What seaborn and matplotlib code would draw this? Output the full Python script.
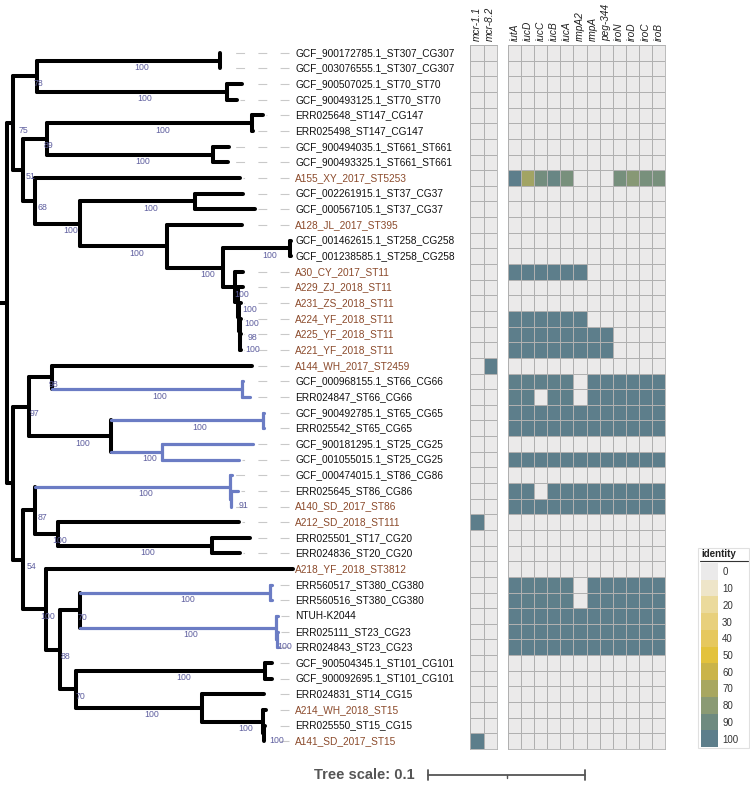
import numpy as np
import pandas as pd
import seaborn as sns
import matplotlib.pyplot as plt
from matplotlib.colors import LinearSegmentedColormap
from matplotlib.lines import Line2D
from matplotlib.patches import Rectangle

sns.set_style('white')
plt.rcParams['font.family'] = ['Liberation Sans', 'DejaVu Sans']

# leaves, top to bottom
leaf_names = [
    'GCF_900172785.1_ST307_CG307', 'GCF_003076555.1_ST307_CG307',
    'GCF_900507025.1_ST70_ST70', 'GCF_900493125.1_ST70_ST70',
    'ERR025648_ST147_CG147', 'ERR025498_ST147_CG147',
    'GCF_900494035.1_ST661_ST661', 'GCF_900493325.1_ST661_ST661',
    'A155_XY_2017_ST5253', 'GCF_002261915.1_ST37_CG37',
    'GCF_000567105.1_ST37_CG37', 'A128_JL_2017_ST395',
    'GCF_001462615.1_ST258_CG258', 'GCF_001238585.1_ST258_CG258',
    'A30_CY_2017_ST11', 'A229_ZJ_2018_ST11', 'A231_ZS_2018_ST11',
    'A224_YF_2018_ST11', 'A225_YF_2018_ST11', 'A221_YF_2018_ST11',
    'A144_WH_2017_ST2459', 'GCF_000968155.1_ST66_CG66', 'ERR024847_ST66_CG66',
    'GCF_900492785.1_ST65_CG65', 'ERR025542_ST65_CG65',
    'GCF_900181295.1_ST25_CG25', 'GCF_001055015.1_ST25_CG25',
    'GCF_000474015.1_ST86_CG86', 'ERR025645_ST86_CG86', 'A140_SD_2017_ST86',
    'A212_SD_2018_ST111', 'ERR025501_ST17_CG20', 'ERR024836_ST20_CG20',
    'A218_YF_2018_ST3812', 'ERR560517_ST380_CG380', 'ERR560516_ST380_CG380',
    'NTUH-K2044', 'ERR025111_ST23_CG23', 'ERR024843_ST23_CG23',
    'GCF_900504345.1_ST101_CG101', 'GCF_900092695.1_ST101_CG101',
    'ERR024831_ST14_CG15', 'A214_WH_2018_ST15', 'ERR025550_ST15_CG15',
    'A141_SD_2017_ST15',
]

study_isolates = [n for n in leaf_names if n.startswith('A')]

# tree: leaves are 1-based indices into leaf_names, internal labels = bootstrap
tree_newick = (
    "((((1:0,2:0)100:0.1166,(3:0.0096,4:0.0064)100:0.1210)78:0.0153,"
    "(((5:0.0070,6:0.0006)100:0.1306,(7:0.0102,8:0.0096)100:0.1057)89:0.0153,"
    "(9:0.1306,((10:0.0306,11:0.0382)100:0.0732,(12:0.0478,"
    "((13:0.0006,14:0.0006)100:0.0427,(15:0.0051,(16:0.0032,(17:0.0013,"
    "(18:0.0006,(19:0.0006,20:0.0006)100:0.0003)98:0.0006)100:0.0006)100:0.0019)"
    "100:0.0076)100:0.0357)100:0.0554)100:0.0287)68:0.0076)51:0.0064)75:0.0038,"
    "(((21:0.1274,(22:0.0006,23:0.0051)100:0.1210)98:0.0146,"
    "((24:0.0006,25:0.0006)100:0.0968,(26:0.0580,27:0.0490)100:0.0325)100:0.0522)97:0.0102,"
    "(((28:0.0013,(29:0.0045,30:0)91:0.0006)100:0.1242,"
    "(31:0.1153,(32:0.0242,33:0.0178)100:0.0981)100:0.0146)87:0.0076,"
    "(34:0.1573,(((35:0.0013,36:0.0013)100:0.1210,(37:0.0013,(38:0.0006,39:0.0006)100:0.0006)100:0.1248)70:0.0127,"
    "((40:0.0045,41:0.0045)100:0.1204,(42:0.0395,(43:0.0019,(44:0.0006,45:0)100:0.0006)100:0.0389)100:0.0803)70:0.0102)"
    "88:0.0089)100:0.0146)54:0.0064):0.0038):0.0045;"
)

# clades drawn in blue
blue_clades = [
    ['GCF_000968155.1_ST66_CG66', 'ERR024847_ST66_CG66'],
    ['GCF_900492785.1_ST65_CG65', 'ERR025542_ST65_CG65'],
    ['GCF_900181295.1_ST25_CG25', 'GCF_001055015.1_ST25_CG25'],
    ['GCF_000474015.1_ST86_CG86', 'ERR025645_ST86_CG86', 'A140_SD_2017_ST86'],
    ['ERR560517_ST380_CG380', 'ERR560516_ST380_CG380'],
    ['NTUH-K2044', 'ERR025111_ST23_CG23', 'ERR024843_ST23_CG23'],
]

mcr_genes = ['mcr-1.1', 'mcr-8.2']
vir_genes = ['iutA', 'iucD', 'iucC', 'iucB', 'iucA', 'rmpA2', 'rmpA',
             'peg-344', 'iroN', 'iroD', 'iroC', 'iroB']

mcr_hits = {
    'A144_WH_2017_ST2459': [0, 100],
    'A212_SD_2018_ST111': [100, 0],
    'A141_SD_2017_ST15': [100, 0],
}

vir_hits = {
    'A155_XY_2017_ST5253': [100, 72, 88, 93, 86, 0, 0, 0, 87, 81, 86, 86],
    'A30_CY_2017_ST11': [100, 100, 100, 100, 100, 100, 0, 0, 0, 0, 0, 0],
    'A224_YF_2018_ST11': [100, 100, 100, 100, 100, 100, 0, 0, 0, 0, 0, 0],
    'A225_YF_2018_ST11': [100, 100, 100, 100, 100, 100, 100, 100, 0, 0, 0, 0],
    'A221_YF_2018_ST11': [100, 100, 100, 100, 100, 100, 100, 100, 0, 0, 0, 0],
    'GCF_000968155.1_ST66_CG66': [99, 99, 99, 99, 99, 0, 100, 100, 100, 100, 100, 100],
    'ERR024847_ST66_CG66': [99, 99, 0, 99, 99, 0, 100, 100, 100, 100, 100, 100],
    'GCF_900492785.1_ST65_CG65': [100] * 12,
    'ERR025542_ST65_CG65': [100] * 12,
    'GCF_001055015.1_ST25_CG25': [100] * 12,
    'ERR025645_ST86_CG86': [100, 100, 0, 100, 100, 100, 100, 100, 100, 100, 100, 100],
    'A140_SD_2017_ST86': [100] * 12,
    'ERR560517_ST380_CG380': [100, 99, 99, 99, 99, 0, 100, 100, 100, 100, 100, 100],
    'ERR560516_ST380_CG380': [100, 99, 99, 99, 99, 0, 100, 100, 100, 100, 100, 100],
    'NTUH-K2044': [100] * 12,
    'ERR025111_ST23_CG23': [100] * 12,
    'ERR024843_ST23_CG23': [100] * 12,
}

legend_levels = [0, 10, 20, 30, 40, 50, 60, 70, 80, 90, 100]
legend_colors = ['#ebeaea', '#eee5c8', '#ebda9c', '#e8d07b', '#e6c85e', '#e3c23c',
                 '#cab449', '#a9a760', '#8a9a74', '#6e8a80', '#5d7e8b']


def parse_newick(s):
    pos = 0

    def node():
        nonlocal pos
        kids = []
        if s[pos] == '(':
            pos += 1
            kids.append(node())
            while s[pos] == ',':
                pos += 1
                kids.append(node())
            pos += 1
        start = pos
        while s[pos] not in ',():;':
            pos += 1
        label = s[start:pos]
        length = 0.0
        if s[pos] == ':':
            pos += 1
            start = pos
            while s[pos] not in ',();':
                pos += 1
            length = float(s[start:pos])
        return {'label': label, 'length': length, 'children': kids}

    return node()


def layout(n, x0):
    n['x'] = x0 + n['length']
    if n['children']:
        for c in n['children']:
            layout(c, n['x'])
        n['y'] = (n['children'][0]['y'] + n['children'][-1]['y']) / 2
        n['leaves'] = set().union(*[c['leaves'] for c in n['children']])
    else:
        n['name'] = leaf_names[int(n['label']) - 1]
        n['y'] = leaf_names.index(n['name']) + 1
        n['leaves'] = {n['name']}


root = parse_newick(tree_newick)
layout(root, 0.0)

px = 1 / 1570          # tree units per pixel (0.1 = 157 px)
label_x = 295 * px
blue = '#6b7cc4'

fig = plt.figure(figsize=(7.5, 7.9), dpi=100)
bottom = 1 - 749 / 790
height = 704 / 790
ax = fig.add_axes([0, bottom, 470 / 750, height])
ax.set_xlim(0, 470 * px)
ax.set_ylim(len(leaf_names) + 0.5, 0.5)
ax.axis('off')


def draw(n, parent_x):
    col = blue if any(n['leaves'] <= set(c) for c in blue_clades) else 'black'
    lw = 2.3 if col == blue else 2.9
    ax.plot([parent_x, n['x']], [n['y'], n['y']], color=col, lw=lw,
            solid_capstyle='round', zorder=2)
    if n['children']:
        ys = [c['y'] for c in n['children']]
        ax.plot([n['x'], n['x']], [min(ys), max(ys)], color=col, lw=lw,
                solid_capstyle='round', zorder=2)
        if n['label']:
            bx = min((parent_x + n['x']) / 2 + 13 * px, 285 * px)
            ax.text(bx, n['y'] + 0.45, n['label'],
                    ha='center', va='center', fontsize=6.3, color='#5f5f9f',
                    family=['Liberation Sans Narrow', 'Liberation Sans'], zorder=3)
        for c in n['children']:
            draw(c, n['x'])
    else:
        if n['x'] < 287 * px:
            ax.plot([289 * px, n['x'] + 3 * px], [n['y'], n['y']], color='#c9c9c9',
                    lw=0.8, ls=(0, (8, 12)), zorder=1)
        ax.text(label_x, n['y'], n['name'], ha='left', va='center', fontsize=7.3,
                color='#8b4a2b' if n['name'] in study_isolates else '#111111')


draw(root, 0.0)

# tree scale
sy = (775 - 45) / (704 / len(leaf_names)) + 0.5
x0, x1 = 428 * px, 428 * px + 0.1
ax.plot([x0, x1], [sy, sy], color='#555555', lw=1.3, clip_on=False)
for xx in (x0, x1):
    ax.plot([xx, xx], [sy - 0.3, sy + 0.3], color='#555555', lw=1.3, clip_on=False)
ax.plot([(x0 + x1) / 2] * 2, [sy, sy + 0.2], color='#555555', lw=1.0, clip_on=False)
ax.text(415 * px, sy, 'Tree scale: 0.1', ha='right', va='center', fontsize=10.5,
        fontweight='bold', color='#555555', clip_on=False)

# heatmaps
cmap = LinearSegmentedColormap.from_list(
    'identity', list(zip(np.array(legend_levels) / 100, legend_colors)))

mcr_df = pd.DataFrame(0, index=leaf_names, columns=mcr_genes, dtype=float)
for k, v in mcr_hits.items():
    mcr_df.loc[k] = v
vir_df = pd.DataFrame(0, index=leaf_names, columns=vir_genes, dtype=float)
for k, v in vir_hits.items():
    vir_df.loc[k] = v

ax_mcr = fig.add_axes([470 / 750, bottom, 27 / 750, height])
ax_vir = fig.add_axes([508 / 750, bottom, 157 / 750, height])
for a, df in ((ax_mcr, mcr_df), (ax_vir, vir_df)):
    sns.heatmap(df, ax=a, cmap=cmap, vmin=0, vmax=100, cbar=False,
                linewidths=0.6, linecolor='#b0b0b0', xticklabels=True,
                yticklabels=False)
    a.xaxis.tick_top()
    a.set_xticklabels(df.columns, rotation=90, fontstyle='italic', fontsize=7.3,
                      color='#222222')
    a.tick_params(length=0, pad=3)
    a.set_xlabel('')
    a.set_ylabel('')
    for s in a.spines.values():
        s.set_visible(True)
        s.set_color('#b0b0b0')
        s.set_linewidth(0.6)

# legend
ax_leg = fig.add_axes([701 / 750, 1 - 747 / 790, 17 / 750, 184 / 790])
leg_df = pd.DataFrame({'identity': legend_levels}, index=legend_levels)
sns.heatmap(leg_df, ax=ax_leg, cmap=cmap, vmin=0, vmax=100, cbar=False,
            xticklabels=False, yticklabels=legend_levels)
ax_leg.yaxis.tick_right()
ax_leg.set_yticklabels(legend_levels, rotation=0, fontsize=7, color='#333333')
ax_leg.tick_params(length=0, pad=3)
ax_leg.set_ylabel('')
fig.text(701 / 750, 1 - 554 / 790, 'identity', fontsize=7, fontweight='bold',
         va='center', ha='left', color='#222222')
fig.add_artist(Line2D([700 / 750, 748 / 750], [1 - 561 / 790] * 2, color='#333333',
                      lw=0.8))
fig.add_artist(Rectangle((698 / 750, 1 - 748 / 790), 51 / 750, 200 / 790,
                         fill=False, edgecolor='#e0e0e0', lw=0.8))

fig.savefig('out.png', dpi=100)
